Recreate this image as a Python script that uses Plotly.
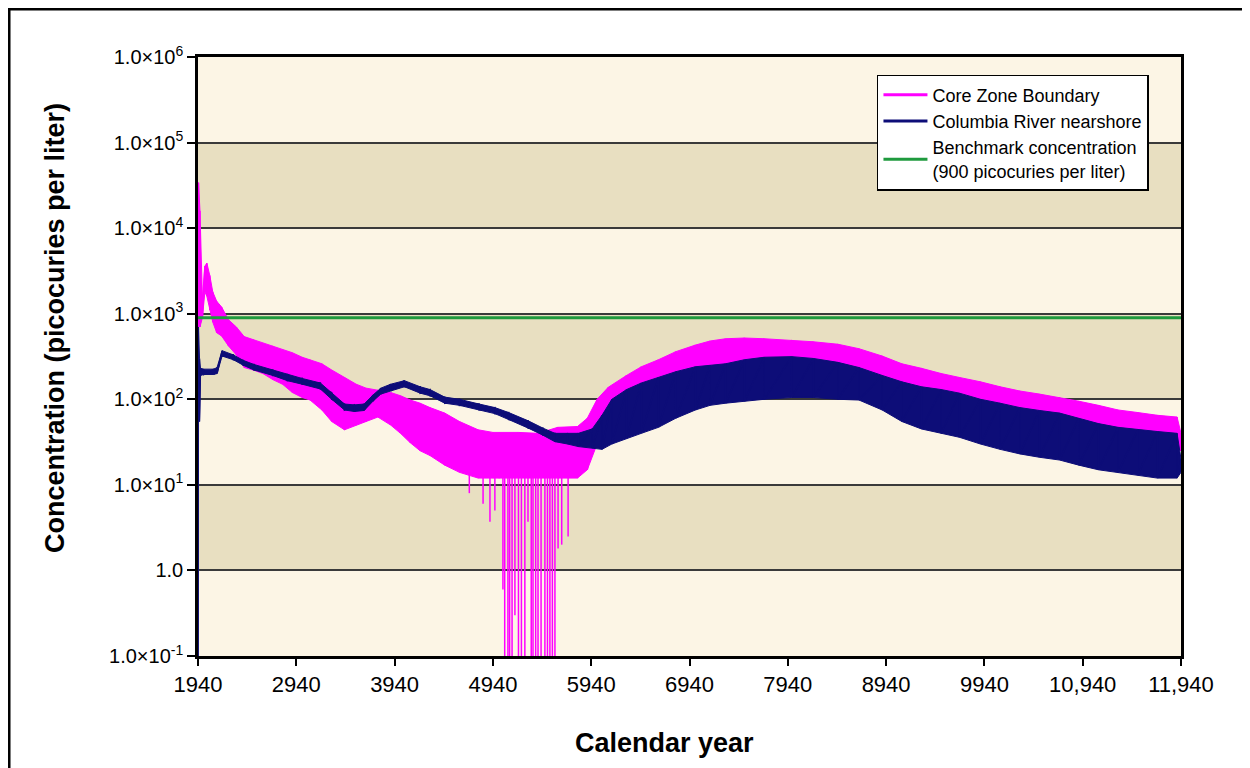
import plotly.graph_objects as go

# ---- data (calendar year, concentration pCi/L) ----
# Core Zone Boundary: lower / upper edge of the noisy trace
czb_years = [1941, 1945, 1960, 1985, 2010, 2030, 2060, 2090, 2130, 2180, 2250, 2330, 2410,
             2500, 2600, 2700, 2800, 2900, 3000, 3080, 3200, 3300, 3430, 3550, 3650, 3770,
             3900, 4000, 4100, 4200, 4300, 4450, 4600, 4790, 4940, 5000, 5200, 5400, 5600,
             5800, 5900, 6000, 6113, 6300, 6450, 6624, 6800, 7000, 7150, 7307, 7500, 7700,
             7980, 8200, 8450, 8664, 8900, 9100, 9300, 9500, 9685, 9900, 10100, 10300,
             10500, 10705, 10900, 11100, 11300, 11500, 11700, 11900, 11940]
czb_low = [300, 800, 700, 900, 1800, 1600, 1100, 800, 600, 550, 420, 330, 235,
           220, 200, 170, 150, 120, 105, 98, 75, 55, 44, 50, 55, 62,
           50, 40, 31, 25, 22, 17, 14, 12, 12, 12, 12, 12, 12,
           12, 15, 30, 74, 95, 115, 138, 170, 200, 220, 235, 250, 260,
           260, 250, 235, 210, 170, 130, 110, 95, 81, 70, 60, 55,
           50, 47, 40, 36, 33, 30, 28, 27, 25]
czb_high = [3000, 34000, 16000, 1500, 3600, 3900, 2800, 1800, 1400, 1200, 850, 700, 540,
            500, 450, 420, 380, 350, 310, 290, 260, 220, 180, 150, 135, 128,
            120, 110, 98, 90, 80, 69, 55, 44, 41, 41, 41, 40, 47,
            48, 60, 100, 138, 190, 240, 290, 360, 430, 480, 510, 520, 510,
            490, 470, 440, 390, 320, 260, 230, 200, 180, 160, 140, 125,
            115, 105, 95, 85, 75, 70, 65, 62, 40]

# downward spikes of the Core Zone Boundary trace around 4600-5700
dip_years = [4700, 4840, 4910, 4960, 5042, 5060, 5093, 5110, 5135, 5164, 5200, 5230,
             5265, 5297, 5330, 5348, 5375, 5399, 5430, 5469, 5495, 5520, 5545, 5571,
             5603, 5640, 5705]
dip_top = [14, 12, 12, 12, 12, 12, 12, 12, 12, 12, 12, 12,
           12, 12, 12, 12, 12, 12, 12, 12, 12, 12, 12, 12,
           14, 14, 14]
dip_low = [8, 6, 3.7, 5, 0.6, 0.05, 0.05, 0.05, 0.05, 0.3, 0.05, 0.05,
           0.05, 3.7, 0.05, 0.05, 0.05, 0.05, 0.05, 0.05, 0.05, 0.05, 0.05, 0.05,
           1.8, 2.0, 2.5]

# Columbia River nearshore: lower / upper edge
crn_years = [1940, 1944, 1955, 1965, 2000, 2100, 2134, 2185, 2300, 2400, 2510, 2700,
             2850, 3000, 3185, 3300, 3430, 3530, 3630, 3720, 3800, 3900, 4040, 4200,
             4300, 4450, 4600, 4800, 4960, 5100, 5300, 5450, 5570, 5700, 5810, 5950,
             6050, 6150, 6300, 6450, 6624, 6800, 7000, 7150, 7307, 7500, 7700, 7980,
             8200, 8450, 8664, 8900, 9100, 9300, 9500, 9685, 9900, 10100, 10300, 10500,
             10705, 10900, 11100, 11300, 11500, 11700, 11900, 11940]
crn_low = [0.05, 60, 55, 190, 195, 195, 200, 320, 290, 250, 220, 190,
           165, 150, 132, 100, 75, 72, 74, 95, 115, 125, 140, 118,
           110, 90, 85, 75, 68, 58, 46, 38, 32, 30, 28, 27,
           26, 30, 35, 40, 47, 60, 75, 85, 90, 95, 100, 105,
           105, 100, 98, 75, 55, 45, 40, 36, 30, 26, 23, 21,
           19.5, 17, 15, 14, 13, 12, 12, 14]
crn_high = [0.05, 700, 300, 230, 225, 225, 235, 370, 330, 285, 255, 220,
            195, 175, 155, 120, 88, 86, 88, 112, 135, 150, 165, 140,
            130, 106, 100, 88, 80, 70, 56, 46, 40, 40, 40, 45,
            65, 100, 130, 155, 180, 210, 240, 250, 260, 290, 310, 315,
            300, 270, 235, 190, 160, 140, 130, 118, 100, 90, 80, 74,
            69, 60, 52, 47, 44, 42, 40, 20]

benchmark = 900
year_range = [1940, 11940]

x_ticks = [1940, 2940, 3940, 4940, 5940, 6940, 7940, 8940, 9940, 10940, 11940]
x_labels = ["1940", "2940", "3940", "4940", "5940", "6940", "7940", "8940", "9940",
            "10,940", "11,940"]
y_ticks = [0.1, 1, 10, 100, 1000, 10000, 100000, 1000000]
y_labels = ["1.0×10<sup>-1</sup>", "1.0", "1.0×10<sup>1</sup>", "1.0×10<sup>2</sup>",
            "1.0×10<sup>3</sup>", "1.0×10<sup>4</sup>", "1.0×10<sup>5</sup>",
            "1.0×10<sup>6</sup>"]

MAGENTA = "#ff00ff"
NAVY = "#0d0d78"
GREEN = "#1f9a3e"
LIGHT = "#fcf5e5"
DARK = "#e8dfc1"
FONT = "Liberation Sans, Arial, sans-serif"


def band_trace(years, low, high, color):
    # area between the lower and upper edge of a noisy trace
    return go.Scatter(x=years + years[::-1], y=high + low[::-1], fill="toself",
                      fillcolor=color, line=dict(color=color, width=1),
                      mode="lines", showlegend=False, hoverinfo="skip")


def zigzag_trace(years, low, high, color):
    xs, ys = [], []
    for yr, lo, hi in zip(years, low, high):
        xs += [yr, yr]
        ys += [hi, lo]
    return go.Scatter(x=xs, y=ys, mode="lines", showlegend=False,
                      line=dict(color=color, width=1.5))


def legend_trace(name, color):
    return go.Scatter(x=[None], y=[None], mode="lines", name=name,
                      line=dict(color=color, width=3))


fig = go.Figure()

fig.add_trace(band_trace(czb_years, czb_low, czb_high, MAGENTA))
fig.add_trace(zigzag_trace(czb_years, czb_low, czb_high, MAGENTA))

dx, dy = [], []
for yr, top, low in zip(dip_years, dip_top, dip_low):
    dx += [yr, yr, None]
    dy += [top, low, None]
fig.add_trace(go.Scatter(x=dx, y=dy, mode="lines", showlegend=False,
                         line=dict(color=MAGENTA, width=1.5)))

fig.add_trace(band_trace(crn_years, crn_low, crn_high, NAVY))
fig.add_trace(zigzag_trace(crn_years, crn_low, crn_high, NAVY))

fig.add_trace(go.Scatter(x=year_range, y=[benchmark, benchmark], mode="lines",
                         showlegend=False, line=dict(color=GREEN, width=3)))

fig.add_trace(legend_trace("Core Zone Boundary", MAGENTA))
fig.add_trace(legend_trace("Columbia River nearshore", NAVY))
fig.add_trace(legend_trace("Benchmark concentration<br>(900 picocuries per liter)", GREEN))

# darker background bands, every other decade
for lo_dec in [1, 3, 5]:
    fig.add_shape(type="rect", xref="x domain", yref="y domain", x0=0, x1=1,
                  y0=lo_dec / 7, y1=(lo_dec + 1) / 7, fillcolor=DARK,
                  line_width=0, layer="below")

# outer frame of the figure
fig.add_shape(type="rect", xref="paper", yref="paper", x0=-0.1920, x1=1.0651,
              y0=-0.25, y1=1.0797, line=dict(color="black", width=2.5))

fig.update_xaxes(range=year_range, tickvals=x_ticks, ticktext=x_labels,
                 showgrid=False, showline=True, linecolor="black", linewidth=2.5,
                 mirror=True, ticks="outside", ticklen=7, tickwidth=2, tickcolor="black",
                 tickfont=dict(size=22, color="black", family=FONT), zeroline=False)
fig.update_yaxes(type="log", range=[-1, 6], tickvals=y_ticks, ticktext=y_labels,
                 showgrid=True, gridcolor="#3a3a3a", gridwidth=1.5,
                 showline=True, linecolor="black", linewidth=2.5, mirror=True,
                 ticks="outside", ticklen=8, tickwidth=2, tickcolor="black",
                 tickfont=dict(size=20, color="black", family=FONT), zeroline=False)

fig.add_annotation(text="<b>Calendar year</b>", xref="paper", yref="paper",
                   x=0.4746, y=-0.1452, xanchor="center", yanchor="middle",
                   showarrow=False, font=dict(size=27, color="black", family=FONT))
fig.add_annotation(text="<b>Concentration (picocuries per liter)</b>", xref="paper",
                   yref="paper", x=-0.1455, y=0.5476, xanchor="center", yanchor="middle",
                   textangle=-90, showarrow=False,
                   font=dict(size=27, color="black", family=FONT))

fig.update_layout(
    width=1242, height=760,
    margin=dict(l=190, r=69, t=49, b=112),
    paper_bgcolor="white", plot_bgcolor=LIGHT,
    legend=dict(x=0.6907, y=0.970, xanchor="left", yanchor="top",
                bgcolor="white", bordercolor="black", borderwidth=1.5,
                font=dict(size=18, color="black", family=FONT),
                itemwidth=44, tracegroupgap=0),
    font=dict(family=FONT, color="black"),
)

fig.write_html("out.html")
